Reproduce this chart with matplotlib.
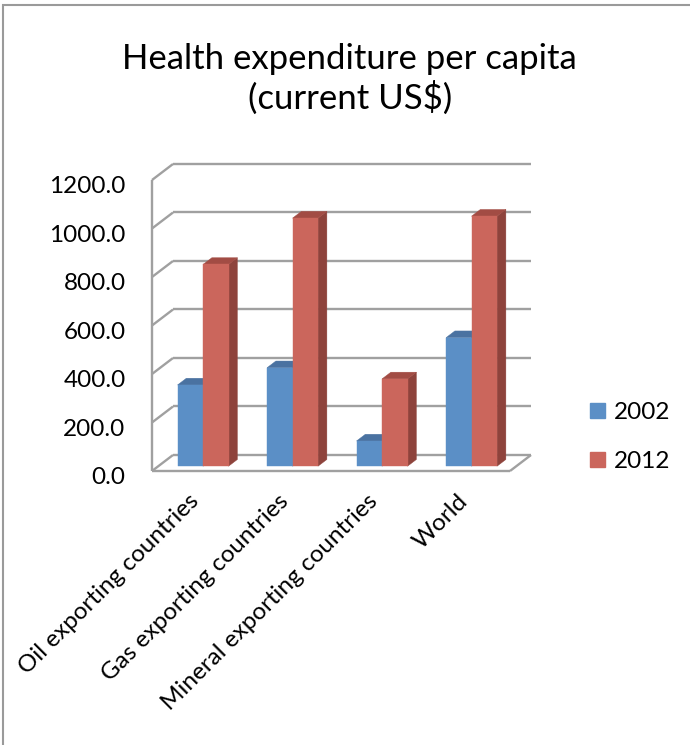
import numpy as np
import matplotlib
matplotlib.use('Agg')
import matplotlib.pyplot as plt
from matplotlib.patches import Polygon, Rectangle, Patch
from matplotlib.lines import Line2D
from matplotlib.transforms import ScaledTranslation

# data
categories = ['Oil exporting countries', 'Gas exporting countries',
              'Mineral exporting countries', 'World']
years = ['2002', '2012']
values_2002 = [335, 406, 104, 530]
values_2012 = [832, 1023, 360, 1031]
yticks = [0, 200, 400, 600, 800, 1000, 1200]
ytick_labels = ['%.1f' % t for t in yticks]

plt.rcParams['font.family'] = ['Lato', 'DejaVu Sans']

# colours: front, top, side
blue = ('#5B8FC6', '#4A72A1', '#3F6391')
red = ('#CB665C', '#A24C44', '#8E433C')
grid_col = '#A0A0A0'

fig = plt.figure(figsize=(6.9, 7.45), dpi=100)
W, H = 690.0, 745.0
ax = fig.add_axes([152 / W, 1 - 471 / H, 358 / W, 291 / H])
ax.set_xlim(-0.5, 3.5)
ax.set_ylim(0, 1200)
for s in ax.spines.values():
    s.set_visible(False)
ax.patch.set_visible(False)

# oblique depth of the box, in pixels -> data units
sx = ax.bbox.width / 4.0
sy = ax.bbox.height / 1200.0
ddx = 21 / sx
ddy = 16 / sy


def P(x, v, f):
    return (x + f * ddx, v + f * ddy)


def seg(p, q):
    ax.add_line(Line2D([p[0], q[0]], [p[1], q[1]], color=grid_col, lw=1.7,
                       clip_on=False, zorder=1, solid_capstyle='butt'))


# walls and floor
for t in yticks:
    seg(P(-0.5, t, 1), P(3.5, t, 1))
    seg(P(-0.5, t, 0), P(-0.5, t, 1))
seg(P(-0.5, 0, 0), P(-0.5, 1200, 0))
seg(P(-0.5, 0, 0), P(3.5, 0, 0))
seg(P(3.5, 0, 0), P(3.5, 0, 1))

# 3d bars
w = 0.285
f0, f1 = 0.3, 0.72


def bar3d(x0, x1, v, cols):
    front = [P(x0, 0, f0), P(x1, 0, f0), P(x1, v, f0), P(x0, v, f0)]
    top = [P(x0, v, f0), P(x1, v, f0), P(x1, v, f1), P(x0, v, f1)]
    side = [P(x1, 0, f0), P(x1, 0, f1), P(x1, v, f1), P(x1, v, f0)]
    for pts, c in zip((side, top, front), (cols[2], cols[1], cols[0])):
        ax.add_patch(Polygon(pts, closed=True, facecolor=c, edgecolor=c,
                             lw=0.3, clip_on=False, zorder=3))


for i in range(len(categories)):
    bar3d(i - w, i, values_2002[i], blue)
    bar3d(i, i + w, values_2012[i], red)

# y tick labels
ax.set_yticks(yticks)
ax.set_yticklabels(ytick_labels, fontsize=17.5)
ax.tick_params(axis='y', length=0, pad=19)
for lab in ax.get_yticklabels():
    lab.set_transform(lab.get_transform() + ScaledTranslation(0, -0.05, fig.dpi_scale_trans))

# category labels
ax.set_xticks(np.arange(len(categories)) + f0 * ddx)
ax.set_xticklabels(categories, fontsize=17.5, rotation=45, ha='right', va='top')
ax.tick_params(axis='x', length=0, pad=14)

# title
fig.text(0.507, 1 - 79 / H, 'Health expenditure per capita\n(current US\\$)',
         ha='center', va='center', fontsize=25, linespacing=1.2)

# legend
handles = [Patch(facecolor=blue[0], edgecolor=blue[0]),
           Patch(facecolor=red[0], edgecolor=red[0])]
fig.legend(handles, years, loc='center left', bbox_to_anchor=(568 / W, 1 - 437 / H),
           frameon=False, fontsize=17.5, handlelength=0.62, handleheight=0.62,
           handletextpad=0.35, labelspacing=1.15)

# outer chart border
fig.patches.append(Rectangle((3.5 / W, -0.01), 1.1, 1 - 4.5 / H + 0.01,
                             transform=fig.transFigure, fill=False,
                             edgecolor='#9A9A9A', lw=1.5))

fig.savefig('out.png', dpi=100)
